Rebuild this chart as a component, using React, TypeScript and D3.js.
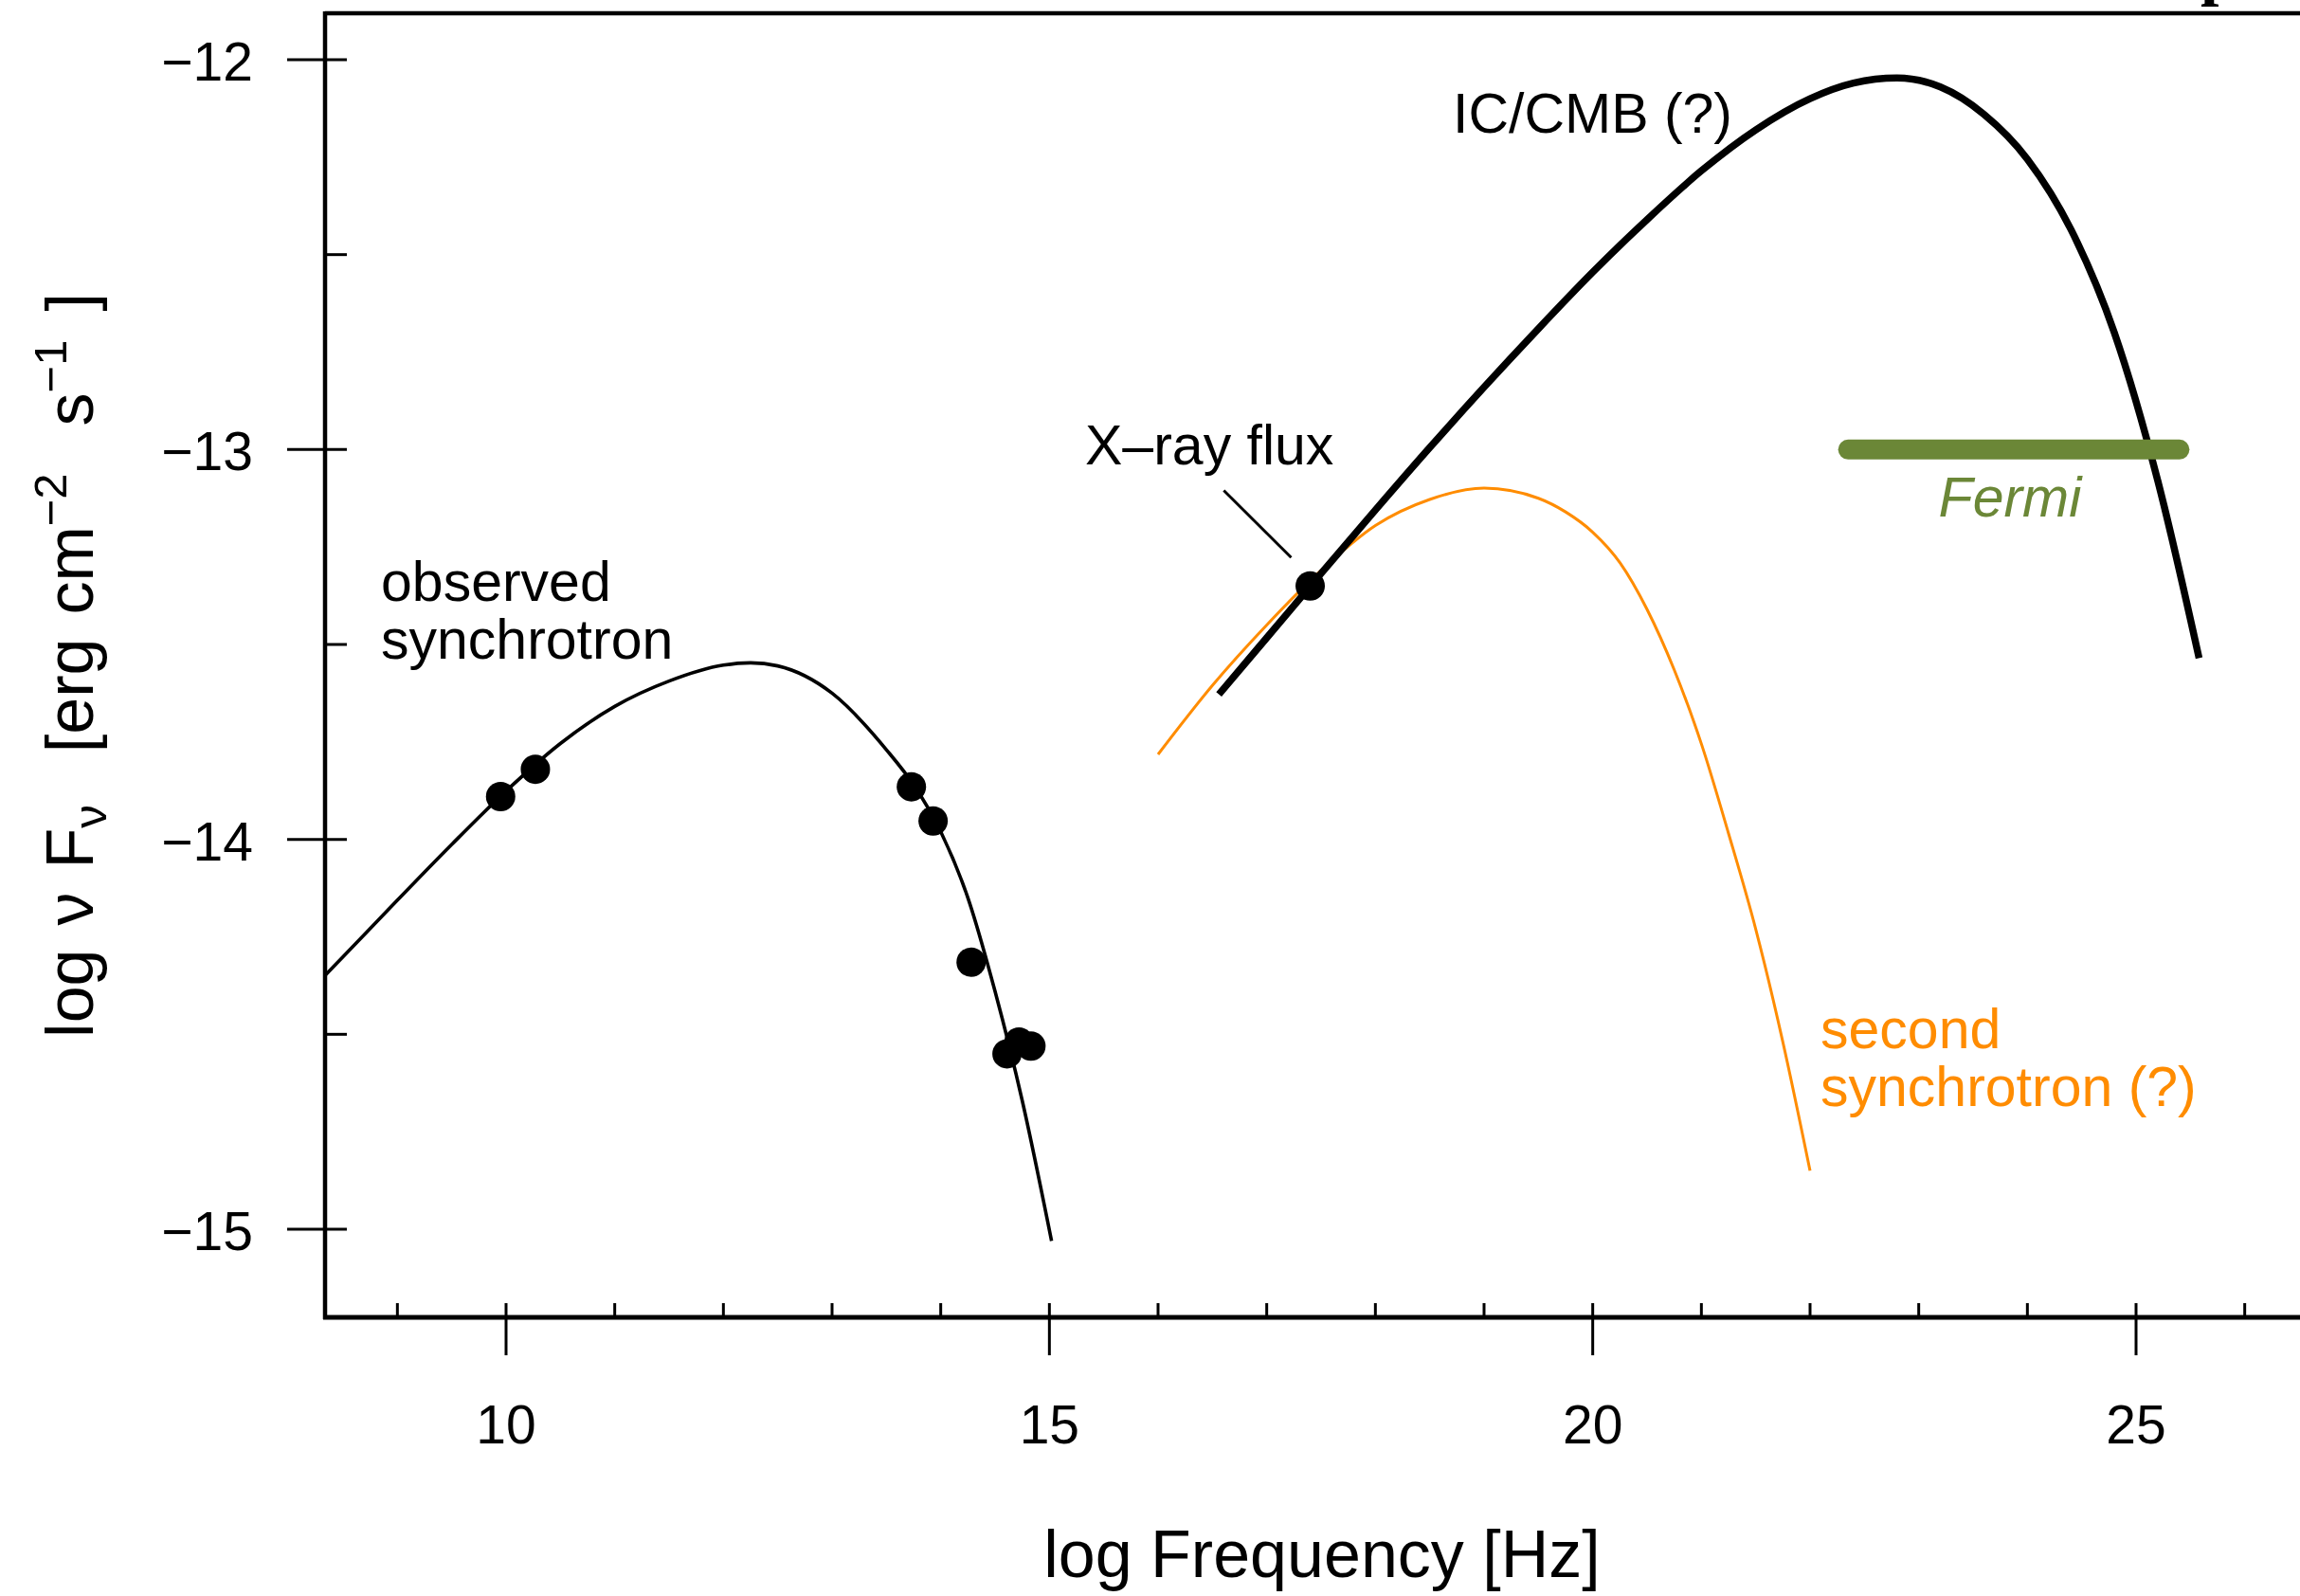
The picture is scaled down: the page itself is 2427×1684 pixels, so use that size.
import React from "react";
import * as d3 from "d3";

// ---------- data ----------
const xMajorTicks = [10, 15, 20, 25];
const xMinorTicks = [9, 11, 12, 13, 14, 16, 17, 18, 19, 21, 22, 23, 24, 26];
const yMajorTicks = [-12, -13, -14, -15];
const yMinorTicks = [-12.5, -13.5, -14.5];

// observed synchrotron model curve
const syncX = [8.33, 8.5, 9, 9.5, 10, 10.5, 11, 11.5, 12, 12.25, 12.5, 13, 13.5, 13.75, 14, 14.25, 14.5, 14.75, 15.02];
const syncY = [-14.35, -14.301, -14.156, -14.013, -13.876, -13.754, -13.659, -13.594, -13.553, -13.547, -13.555, -13.625, -13.77, -13.86, -13.98, -14.15, -14.39, -14.67, -15.03];

// observed data points
const obsX = [9.95, 10.27, 13.73, 13.93, 14.28, 14.61, 14.72, 14.83];
const obsY = [-13.89, -13.82, -13.865, -13.953, -14.315, -14.55, -14.52, -14.53];

// IC/CMB curve
const icX = [16.56, 17.0, 17.5, 18.0, 18.5, 19.0, 19.5, 20.0, 20.5, 21.0, 21.5, 22.0, 22.4, 22.8, 23.2, 23.6, 24.0, 24.4, 24.8, 25.2, 25.58];
const icY = [-13.628, -13.483, -13.318, -13.155, -12.995, -12.84, -12.69, -12.545, -12.41, -12.285, -12.18, -12.1, -12.06, -12.047, -12.07, -12.14, -12.255, -12.435, -12.7, -13.08, -13.535];

// second synchrotron curve
const sec2X = [16.0, 16.5, 17.0, 17.5, 18.0, 18.5, 19.0, 19.5, 19.75, 20.0, 20.25, 20.5, 20.75, 21.0, 21.25, 21.5, 21.75, 22.0];
const sec2Y = [-13.782, -13.605, -13.45, -13.31, -13.195, -13.128, -13.099, -13.125, -13.16, -13.212, -13.29, -13.41, -13.565, -13.755, -13.985, -14.23, -14.52, -14.85];

// X-ray flux point
const xrayX = [17.4];
const xrayY = [-13.35];
// leader line for X-ray label
const xrayLeaderX = [16.605, 17.225];
const xrayLeaderY = [-13.105, -13.277];

// Fermi band
const fermiX = [22.35, 25.4];
const fermiY = [-13.0, -13.0];

// ---------- layout ----------
const W = 2427;
const H = 1684;
const left = 343;
const top = 14;
const bottom = 1390;

const x = d3.scaleLinear().domain([10, 25]).range([534, 2254]);
const y = d3.scaleLinear().domain([-12, -15]).range([63, 1297]);

const FONT = "'Liberation Sans', Arial, Helvetica, sans-serif";
const ORANGE = "#ff8c00";
const GREEN = "#6b8737";

function pts(xs: number[], ys: number[]): [number, number][] {
  return xs.map((v, i) => [v, ys[i]] as [number, number]);
}

const lineGen = d3
  .line<[number, number]>()
  .x((d) => x(d[0]))
  .y((d) => y(d[1]))
  .curve(d3.curveMonotoneX);

const straight = d3
  .line<[number, number]>()
  .x((d) => x(d[0]))
  .y((d) => y(d[1]));

export default function App() {
  const axisW = 4.5;
  const tickW = 3;
  return (
    <svg
      width={W}
      height={H}
      viewBox={`0 0 ${W} ${H}`}
      style={{ position: "absolute", left: 0, top: 0, background: "#fff" }}
    >
      <rect x={0} y={0} width={W} height={H} fill="#fff" />

      {/* cut-off glyph at top right (as in the reference) */}
      <text x={2322} y={-8} fontFamily="'Liberation Serif', 'DejaVu Serif', serif" fontWeight="bold" fontSize={70} fill="#000">
        p
      </text>

      {/* frame */}
      <line x1={left} y1={top} x2={W + 10} y2={top} stroke="#000" strokeWidth={axisW} />
      <line x1={left} y1={top - 2} x2={left} y2={bottom + 2} stroke="#000" strokeWidth={axisW} />
      <line x1={left - 2} y1={bottom} x2={W + 10} y2={bottom} stroke="#000" strokeWidth={axisW + 0.5} />

      {/* x ticks */}
      {xMajorTicks.map((t) => (
        <g key={"xM" + t}>
          <line x1={x(t)} x2={x(t)} y1={bottom - 15} y2={bottom + 40} stroke="#000" strokeWidth={tickW} />
          <text x={x(t)} y={1523} textAnchor="middle" fontFamily={FONT} fontSize={57} fill="#000">
            {t}
          </text>
        </g>
      ))}
      {xMinorTicks.map((t) => (
        <line key={"xm" + t} x1={x(t)} x2={x(t)} y1={bottom - 15} y2={bottom} stroke="#000" strokeWidth={tickW} />
      ))}

      {/* y ticks */}
      {yMajorTicks.map((t) => (
        <g key={"yM" + t}>
          <line x1={left - 40} x2={left + 23} y1={y(t)} y2={y(t)} stroke="#000" strokeWidth={tickW} />
          <text x={267} y={y(t) + 22} textAnchor="end" fontFamily={FONT} fontSize={57} fill="#000">
            {"\u2212" + Math.abs(t)}
          </text>
        </g>
      ))}
      {yMinorTicks.map((t) => (
        <line key={"ym" + t} x1={left} x2={left + 23} y1={y(t)} y2={y(t)} stroke="#000" strokeWidth={tickW} />
      ))}

      {/* axis titles */}
      <text x={1395} y={1664} textAnchor="middle" fontFamily={FONT} fontSize={70} fill="#000">
        log Frequency [Hz]
      </text>
      <text transform="translate(98,702) rotate(-90)" textAnchor="middle" fontFamily={FONT} fontSize={70} fill="#000">
        <tspan>log</tspan>
        <tspan dx={25}>ν</tspan>
        <tspan dx={25}>F</tspan>
        <tspan fontSize={49} dy={14}>ν</tspan>
        <tspan dx={55} dy={-14}>[erg</tspan>
        <tspan dx={25}>cm</tspan>
        <tspan fontSize={49} dy={-28}>{"\u22122"}</tspan>
        <tspan dx={50} dy={28}>s</tspan>
        <tspan fontSize={49} dy={-28}>{"\u22121"}</tspan>
        <tspan dx={30} dy={28}>]</tspan>
      </text>

      {/* curves */}
      <path d={lineGen(pts(sec2X, sec2Y)) || ""} fill="none" stroke={ORANGE} strokeWidth={3} />
      <path d={lineGen(pts(syncX, syncY)) || ""} fill="none" stroke="#000" strokeWidth={3.6} />
      <path d={lineGen(pts(icX, icY)) || ""} fill="none" stroke="#000" strokeWidth={7.5} />

      {/* Fermi band */}
      <path d={straight(pts(fermiX, fermiY)) || ""} fill="none" stroke={GREEN} strokeWidth={21} strokeLinecap="round" />
      <text x={2121} y={545} textAnchor="middle" fontFamily={FONT} fontStyle="italic" fontSize={59} fill={GREEN}>
        Fermi
      </text>

      {/* observed points */}
      {obsX.map((v, i) => (
        <circle key={"o" + i} cx={x(v)} cy={y(obsY[i])} r={15.5} fill="#000" />
      ))}
      {xrayX.map((v, i) => (
        <circle key={"xr" + i} cx={x(v)} cy={y(xrayY[i])} r={15.5} fill="#000" />
      ))}

      {/* annotations */}
      <path d={straight(pts(xrayLeaderX, xrayLeaderY)) || ""} fill="none" stroke="#000" strokeWidth={3} />
      <text x={1145} y={490} fontFamily={FONT} fontSize={59} fill="#000">
        X–ray flux
      </text>
      <text x={1533} y={140} fontFamily={FONT} fontSize={59} fill="#000">
        IC/CMB (?)
      </text>
      <text x={402} y={634} fontFamily={FONT} fontSize={59} fill="#000">
        observed
      </text>
      <text x={402} y={695} fontFamily={FONT} fontSize={59} fill="#000">
        synchrotron
      </text>
      <text x={1921} y={1106} fontFamily={FONT} fontSize={59} fill={ORANGE}>
        second
      </text>
      <text x={1921} y={1167} fontFamily={FONT} fontSize={59} fill={ORANGE}>
        synchrotron (?)
      </text>
    </svg>
  );
}
